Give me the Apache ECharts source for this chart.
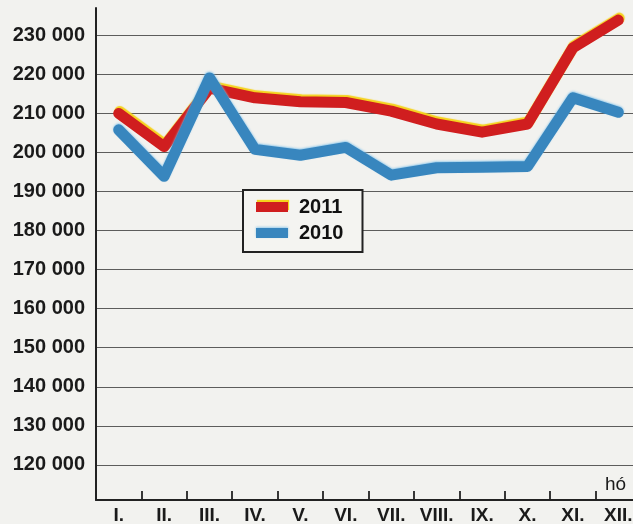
<!DOCTYPE html>
<html>
<head>
<meta charset="utf-8">
<script src="https://cdn.jsdelivr.net/npm/echarts@6/dist/echarts.min.js"></script>
<style>
html,body{margin:0;padding:0;background:#f2f2ef;}
#chart{width:633px;height:524px;}
</style>
</head>
<body>
<div id="chart"></div>
<script>
const months = ['I.', 'II.', 'III.', 'IV.', 'V.', 'VI.', 'VII.', 'VIII.', 'IX.', 'X.', 'XI.', 'XII.'];
const values2011 = [210000, 201500, 216500, 214000, 213000, 212800, 210600, 207300, 205200, 207300, 226800, 233900];
const values2010 = [205800, 193900, 219100, 200800, 199300, 201300, 194200, 196100, 196200, 196400, 214000, 210300];
const seriesNames = ['2011', '2010'];
const yMin = 111000;
const yMax = 237000;
const unitName = 'hó';

const FONT = "'Liberation Sans', Arial, sans-serif";
const RED = '#d01e1f';
const BLUE = '#3886be';

const chart = echarts.init(document.getElementById('chart'), null, {renderer: 'canvas'});

const fmt = v => Math.round(v / 1000) + ' 000';

const option = {
  backgroundColor: '#f2f2ef',
  animation: false,
  grid: {left: 96, width: 545, top: 8, bottom: 24, containLabel: false, outerBoundsMode: 'none'},
  xAxis: {
    type: 'category', data: months, boundaryGap: true,
    axisLine: {show: true, lineStyle: {color: '#222', width: 2}},
    axisTick: {show: true, inside: true, length: 9, lineStyle: {color: '#222', width: 1.8}},
    axisLabel: {show: true, interval: 0, margin: 6, fontFamily: FONT, fontWeight: 'bold', fontSize: 19, color: '#1a1a1a'},
    splitLine: {show: false},
    name: unitName, nameLocation: 'end', nameGap: -36,
    nameTextStyle: {fontFamily: FONT, fontSize: 19, color: '#1a1a1a', align: 'left', verticalAlign: 'bottom', padding: [0, 0, 6, 0]}
  },
  yAxis: {
    type: 'value', min: yMin, max: yMax, splitNumber: 12, minInterval: 10000, maxInterval: 10000,
    axisLine: {show: true, lineStyle: {color: '#222', width: 2}},
    axisTick: {show: false},
    axisLabel: {show: true, showMinLabel: false, showMaxLabel: false, margin: 11,
      fontFamily: FONT, fontWeight: 'bold', fontSize: 20, color: '#1a1a1a', formatter: fmt},
    splitLine: {show: true, showMinLine: false, showMaxLine: false,
      lineStyle: {color: 'rgba(55,55,55,0.8)', width: 1.1}}
  },
  legend: {
    left: 243, top: 190, orient: 'vertical',
    backgroundColor: '#f4f4f1',
    borderColor: '#222', borderWidth: 2,
    padding: [6, 19, 8, 13],
    itemWidth: 32, itemHeight: 10, itemGap: 4,
    icon: 'rect',
    textStyle: {fontFamily: FONT, fontWeight: 'bold', fontSize: 20, lineHeight: 22, color: '#111', padding: [0, 0, 0, 6]},
    data: [
      {name: seriesNames[0], itemStyle: {color: RED, shadowColor: '#f5d21c', shadowOffsetY: -2, shadowOffsetX: 1, shadowBlur: 1}},
      {name: seriesNames[1], itemStyle: {color: BLUE, shadowColor: 'rgba(130,195,235,0.8)', shadowOffsetY: -1, shadowBlur: 2}}
    ]
  },
  series: [
    {name: seriesNames[0], type: 'line', data: values2011,
     showSymbol: false, symbol: 'none', color: RED, z: 3,
     lineStyle: {color: RED, width: 11, cap: 'round', join: 'round',
       shadowColor: '#f5d21c', shadowOffsetX: 1, shadowOffsetY: -2, shadowBlur: 1}},
    {name: seriesNames[1], type: 'line', data: values2010,
     showSymbol: false, symbol: 'none', color: BLUE, z: 4,
     lineStyle: {color: BLUE, width: 11, cap: 'round', join: 'round',
       shadowColor: 'rgba(130,195,235,0.8)', shadowOffsetY: -1, shadowBlur: 2}}
  ]
};
chart.setOption(option);
</script>
</body>
</html>
